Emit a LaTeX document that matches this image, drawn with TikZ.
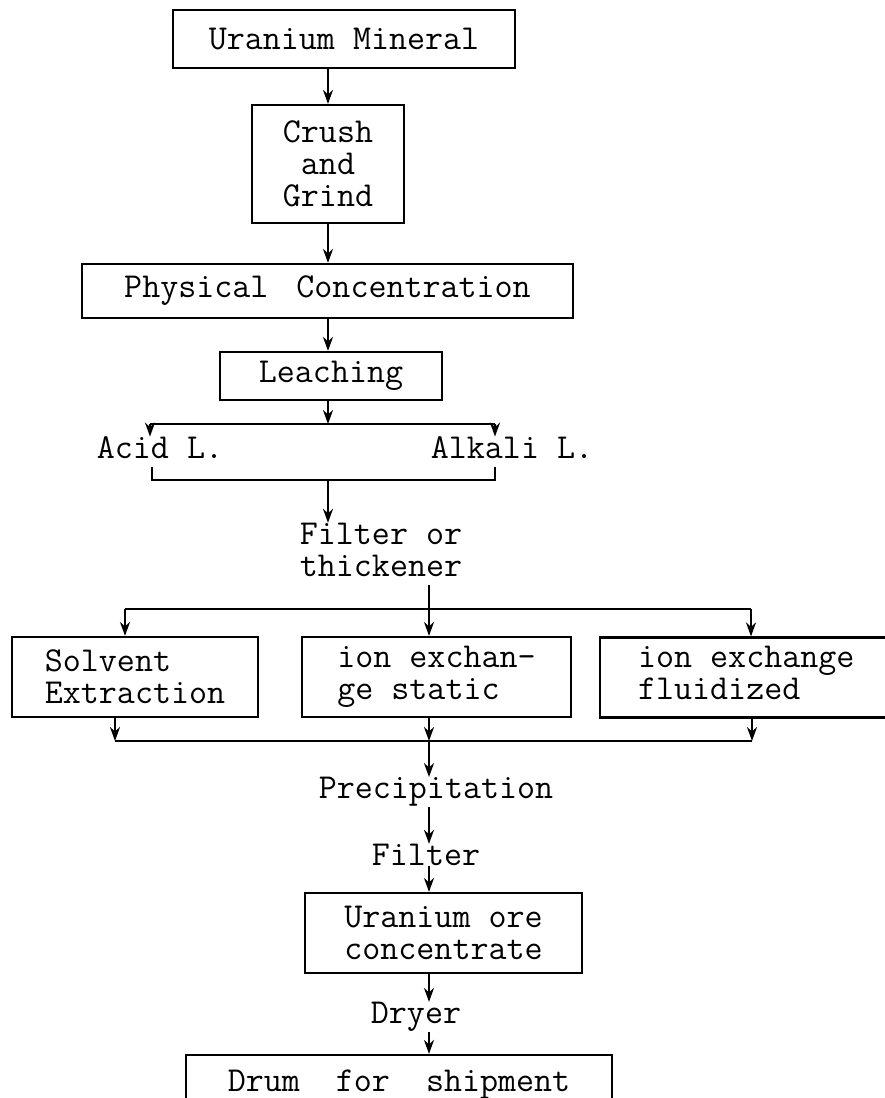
\documentclass[tikz,border=0pt]{standalone}
\usetikzlibrary{arrows.meta, positioning, calc}
\newcommand{\typewr}{\ttfamily\fontsize{17.5}{16}\selectfont}

\begin{document}
\begin{tikzpicture}[x=0.5pt, y=-0.5pt,
      every node/.style={font=\typewr, inner sep=0pt},
      box/.style={draw, line width=1.1pt, align=center},
      lbl/.style={align=left},
      arr/.style={-{Stealth[length=7pt, width=5pt]}, line width=1.1pt},
      ln/.style={line width=1.1pt},
    ]
    \useasboundingbox (0,0) rectangle (884,1098);
    % --- ore preparation ----------------------------------------------
    \node[box, minimum width=171pt, minimum height=29pt] (mineral) at (344,39) {Uranium Mineral};
    \node[box, minimum width=76pt, minimum height=59pt] (crush) at (328,164) {Crush\\and\\Grind};
    \node[box, minimum width=245.5pt, minimum height=27pt] (phys) at (327.5,291) {Physical\hspace{5pt} Concentration};
    \node[box, minimum width=111pt, minimum height=24pt] (leach) at (331,376) {Leaching};
    \node[lbl] (acid) at (160,448) {Acid L.};
    \node[lbl] (alkali) at (512,448) {Alkali L.};
    \node[lbl] (thick) at (381,550) {Filter or\\thickener};
    % --- the three recovery routes ------------------------------------
    \node[box, align=left, minimum width=123pt, minimum height=40pt] (solvent) at (135,677) {Solvent\\Extraction};
    \node[box, align=left, minimum width=134.5pt, minimum height=40pt] (static) at (436.5,677) {ion exchan-\\ge static};
    \node[box, anchor=west, minimum height=40pt] (fluid) at (599,677.5)
      {\hspace{19pt}\begin{tabular}{@{}l@{}}ion exchange\\fluidized\end{tabular}\hspace{80pt}};
    % --- product end --------------------------------------------------
    \node (precip) at (436,792) {Precipitation};
    \node (filter) at (426,855) {Filter};
    \node[box, minimum width=138.5pt, minimum height=40pt] (conc) at (443.5,933) {Uranium ore\\concentrate};
    \node (dryer) at (416,1017) {Dryer};
    \node[box, minimum width=213pt, minimum height=30pt] (drum) at (399,1085) {Drum\ \ for\ \ shipment};
    % --- columns and branch points ------------------------------------
    \coordinate (main) at (328,0);
    \coordinate (col) at (429,0);
    \coordinate (sp1l) at (150,424);
    \coordinate (sp1r) at (495,424);
    \coordinate (jn1l) at (152,480);
    \coordinate (jn1r) at (495,480);
    \coordinate (sp2l) at (125,609);
    \coordinate (sp2r) at (751,609);
    \coordinate (jn2l) at (115,741);
    \coordinate (jn2r) at (752,741);
    % --- upper flow ---------------------------------------------------
    \draw[arr] (main |- mineral.south) -- (main |- crush.north);
    \draw[arr] (main |- crush.south) -- (main |- phys.north);
    \draw[arr] (main |- phys.south) -- (main |- leach.north);
    \draw[arr] (main |- leach.south) -- (main |- sp1l);
    \draw[ln] (sp1l) -- (sp1r);
    \draw[arr] (sp1l) -- (sp1l |- acid.north);
    \draw[arr] (sp1r) -- (sp1r |- alkali.north);
    \draw[ln, shorten <=4pt, shorten >=4pt] (jn1l |- acid.south) -- (jn1l) -- (jn1r) -- (jn1r |- alkali.south);
    \draw[arr] (main |- jn1l) -- (main |- thick.north);
    % --- split into three and join again ------------------------------
    \draw[arr, shorten <=4pt] (col |- thick.south) -- (col |- static.north);
    \draw[ln] (sp2l) -- (sp2r);
    \draw[arr] (sp2l) -- (sp2l |- solvent.north);
    \draw[arr] (sp2r) -- (sp2r |- fluid.north);
    \draw[arr] (jn2l |- solvent.south) -- (jn2l);
    \draw[arr] (col |- static.south) -- (col |- jn2l);
    \draw[arr] (jn2r |- fluid.south) -- (jn2r);
    \draw[ln] (jn2l) -- (jn2r);
    % --- lower flow ---------------------------------------------------
    \draw[arr] (col |- jn2l) -- (col |- precip.north);
    \draw[arr] (col |- precip.south) -- (col |- filter.north);
    \draw[arr] (col |- filter.south) -- (col |- conc.north);
    \draw[arr] (col |- conc.south) -- (col |- dryer.north);
    \draw[arr] (col |- dryer.south) -- (col |- drum.north);
  \end{tikzpicture}
\end{document}
